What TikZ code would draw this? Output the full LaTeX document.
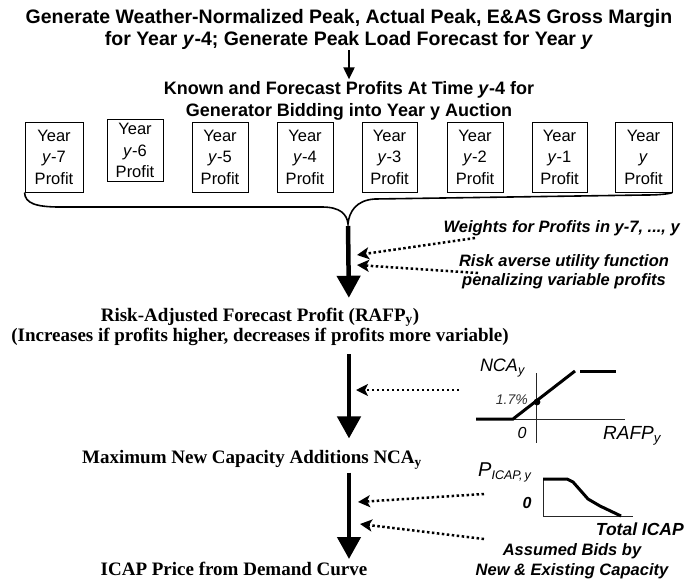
\documentclass[tikz,border=0pt]{standalone}
\usepackage{fontspec}
\setmainfont{Liberation Sans}
\newfontfamily\tnr{Liberation Serif}
\usetikzlibrary{arrows.meta}
\begin{document}
\begin{tikzpicture}[x=1pt,y=-1pt,
 titlefont/.style={font=\fontsize{19.5}{22}\selectfont\bfseries, align=center, inner sep=0},
 knownfont/.style={font=\fontsize{18}{22}\selectfont\bfseries, align=center, inner sep=0},
 yearbox/.style={draw, line width=0.9pt, minimum width=57pt, minimum height=70pt, align=center, font=\fontsize{16.5}{21.5}\selectfont, inner sep=0},
 serifhead/.style={font=\tnr\fontsize{19}{20.5}\selectfont\bfseries, align=center, inner sep=0},
 note/.style={font=\fontsize{16.5}{19.5}\selectfont\bfseries\itshape, align=center, inner sep=0},
 chartlbl/.style={font=\fontsize{18}{18}\selectfont\itshape, inner sep=0},
 bigarrow/.style={line width=4.5pt, -{Triangle[width=23pt,length=22pt]}},
 dotarrow/.style={line width=2.5pt, dash pattern=on 2.5pt off 2.5pt, -{Stealth[length=12pt,width=12pt,inset=3pt]}},
 axisline/.style={line width=0.9pt, black!85},
 curve/.style={line width=3pt},
]
\path[use as bounding box] (0,0) rectangle (698,584);
\coordinate (spine) at (349,0);
% headings
\node[titlefont] (title) at (349,29) {Generate Weather-Normalized Peak, Actual Peak, E\&AS Gross Margin\\ for Year \textit{y}-4; Generate Peak Load Forecast for Year \textit{y}};
\node[knownfont] (known) at (349,101) {Known and Forecast Profits At Time \textit{y}-4 for\\ Generator Bidding into Year y Auction};
\draw[line width=2pt, -{Triangle[width=11pt,length=12pt]}, shorten <=1pt, shorten >=2pt] (title.south -| spine) -- (known.north -| spine);
% year boxes
\node[yearbox, minimum width=58pt] (b1) at (54,157) {Year\\ \textit{y}-7\\ Profit};
\node[yearbox, minimum width=56pt, minimum height=62pt] (b2) at (135,150.5) {Year\\ \textit{y}-6\\ Profit};
\node[yearbox, minimum width=56pt] (b3) at (220,157) {Year\\ \textit{y}-5\\ Profit};
\node[yearbox, minimum width=56pt] (b4) at (305,157) {Year\\ \textit{y}-4\\ Profit};
\node[yearbox, minimum width=55pt] (b5) at (389.5,157) {Year\\ \textit{y}-3\\ Profit};
\node[yearbox, minimum width=56pt] (b6) at (475,157) {Year\\ \textit{y}-2\\ Profit};
\node[yearbox, minimum width=55pt] (b7) at (559.5,157) {Year\\ \textit{y}-1\\ Profit};
\node[yearbox, minimum width=57pt] (b8) at (643.5,157) {Year\\ \textit{y}\\ Profit};
% brace
\coordinate (tip) at (348,224);
\draw[line width=1.6pt] (b1.south west) .. controls (25,203) and (35,207) .. (60,207) -- (322,207)
  .. controls (340,207) and (347,214) .. (tip)
  .. controls (349,212) and (356,200) .. (375,199) -- (645,195)
  .. controls (665,195) and (672,193) .. (b8.south east);
% RAFP
\node[serifhead] (rafp) at (260,327) {Risk-Adjusted Forecast Profit (RAFP\textsubscript{y})\\ (Increases if profits higher, decreases if profits more variable)};
\draw[bigarrow, shorten <=2pt, shorten >=10pt] (tip) -- (rafp.north -| spine);
% notes
\node[note, anchor=east] (weights) at (680,228) {Weights for Profits in y-7, ..., y};
\node[note] (risk) at (564,271.5) {Risk averse utility function\\ penalizing variable profits};
\coordinate (w0) at (475,238);
\coordinate (r0) at (478,273);
\coordinate (hit1) at (357,255);
\coordinate (hit2) at (357,265);
\draw[dotarrow] (w0) -- (hit1);
\draw[dotarrow] (r0) -- (hit2);
% NCA
\node[serifhead] (nca) at (252,460) {Maximum New Capacity Additions NCA\textsubscript{y}};
\draw[bigarrow, shorten <=8pt, shorten >=12pt] (rafp.south -| spine) -- (nca.north -| spine);
% NCA chart
\draw[axisline] (536,373) coordinate (v1t) -- (536,443) coordinate (v1b);
\draw[axisline] (490,419) coordinate (h1l) -- (625,419) coordinate (h1r);
\draw[curve] (476,419) -- (513,419) -- (575,371);
\draw[curve] (580,371) -- (616,371);
\fill (537,402) circle (3.4pt);
\node[chartlbl, anchor=east] (ncalbl) at (525,368) {NCA\textsubscript{y}};
\node[font=\fontsize{14}{14}\selectfont\itshape, text=black!80, anchor=east, inner sep=0] (pct) at (528,400) {1.7\%};
\node[font=\fontsize{16}{16}\selectfont\itshape, anchor=center, inner sep=0] (zero1) at (522,433) {0};
\node[chartlbl, font=\fontsize{19}{19}\selectfont\itshape, anchor=west] (rafplbl) at (603,436) {RAFP\textsubscript{y}};
\coordinate (n0) at (459,390);
\coordinate (hit3) at (356,390);
\draw[dotarrow] (n0) -- (hit3);
% ICAP chart
\node[serifhead] (icap) at (234,569) {ICAP Price from Demand Curve};
\draw[bigarrow, shorten <=3pt, shorten >=3pt] (nca.south -| spine) -- (icap.north -| spine);
\draw[axisline] (543,479) coordinate (v2t) -- (543,516) coordinate (v2b) -- (633,516) coordinate (h2r);
\draw[curve] (543,479) -- (567,479) -- (573,482) -- (588,499) -- (600,506) -- (621,516);
\node[font=\fontsize{20}{20}\selectfont\itshape, anchor=base west, inner sep=0] (plbl) at (478,476) {P\textsubscript{\fontsize{12.5}{12.5}\selectfont ICAP,\,y}};
\node[font=\fontsize{16}{16}\selectfont\bfseries\itshape, inner sep=0] (zero2) at (527,503) {0};
\node[note, font=\fontsize{17.5}{19}\selectfont\bfseries\itshape, anchor=east] (total) at (684,529) {Total ICAP};
\node[note] (bids) at (572,561) {Assumed Bids by\\ New \& Existing Capacity};
\coordinate (d4) at (484,494);
\coordinate (d5) at (484,539);
\coordinate (hit4) at (358,502);
\coordinate (hit5) at (360,524);
\draw[dotarrow] (d4) -- (hit4);
\draw[dotarrow] (d5) -- (hit5);
\end{tikzpicture}
\end{document}
